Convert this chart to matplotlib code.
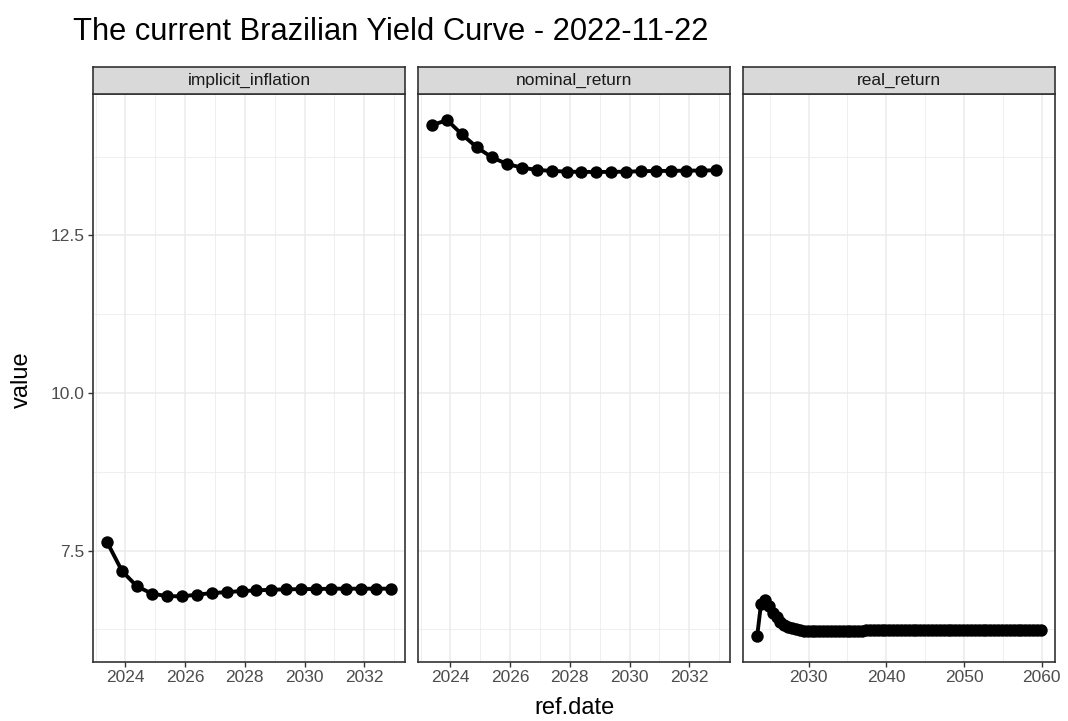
import matplotlib
matplotlib.use("Agg")
import matplotlib.pyplot as plt
from matplotlib.ticker import FixedLocator

plt.rcParams['font.family'] = ['Liberation Sans', 'DejaVu Sans']

# ---------------- data ----------------
dates_short = [2023.39, 2023.89, 2024.39, 2024.89, 2025.39, 2025.89, 2026.39, 2026.89,
               2027.39, 2027.89, 2028.39, 2028.89, 2029.39, 2029.89, 2030.39, 2030.89,
               2031.39, 2031.89, 2032.39, 2032.89]

implicit_inflation = [7.631, 7.173, 6.931, 6.816, 6.778, 6.773, 6.800, 6.825, 6.841, 6.857,
                      6.868, 6.879, 6.884, 6.889, 6.889, 6.895, 6.895, 6.895, 6.895, 6.895]

nominal_return = [14.249, 14.328, 14.100, 13.895, 13.737, 13.633, 13.574, 13.538, 13.522, 13.511,
                  13.506, 13.506, 13.506, 13.511, 13.516, 13.522, 13.522, 13.527, 13.527, 13.532]

dates_real = [2023.39, 2023.89, 2024.39, 2024.89, 2025.39, 2025.89, 2026.39, 2026.89,
              2027.39, 2027.89, 2028.39, 2028.89, 2029.39, 2029.89, 2030.39, 2030.89,
              2031.39, 2031.89, 2032.39, 2032.89, 2033.39, 2033.89, 2034.39, 2034.89,
              2035.39, 2035.89, 2036.39, 2036.89, 2037.39, 2037.89, 2038.39, 2038.89,
              2039.39, 2039.89, 2040.39, 2040.89, 2041.39, 2041.89, 2042.39, 2042.89,
              2043.39, 2043.89, 2044.39, 2044.89, 2045.39, 2045.89, 2046.39, 2046.89,
              2047.39, 2047.89, 2048.39, 2048.89, 2049.39, 2049.89, 2050.39, 2050.89,
              2051.39, 2051.89, 2052.39, 2052.89, 2053.39, 2053.89, 2054.39, 2054.89,
              2055.39, 2055.89, 2056.39, 2056.89, 2057.39, 2057.89, 2058.39, 2058.89,
              2059.39, 2059.89]

real_return = [6.146, 6.660, 6.710, 6.620, 6.510, 6.440, 6.370, 6.325,
               6.290, 6.270, 6.250, 6.238, 6.228, 6.222, 6.220, 6.220,
               6.221, 6.222, 6.223, 6.224, 6.225, 6.226, 6.227, 6.228,
               6.229, 6.230, 6.230, 6.231, 6.232, 6.233, 6.233, 6.234,
               6.235, 6.235, 6.236, 6.236, 6.237, 6.237, 6.238, 6.238,
               6.239, 6.239, 6.240, 6.240, 6.240, 6.241, 6.241, 6.241,
               6.242, 6.242, 6.242, 6.243, 6.243, 6.243, 6.243, 6.244,
               6.244, 6.244, 6.244, 6.245, 6.245, 6.245, 6.245, 6.245,
               6.246, 6.246, 6.246, 6.246, 6.246, 6.246, 6.247, 6.247,
               6.247, 6.247]

facet_names = ["implicit_inflation", "nominal_return", "real_return"]
facet_x = [dates_short, dates_short, dates_real]
facet_y = [implicit_inflation, nominal_return, real_return]

short_major = [2024, 2026, 2028, 2030, 2032]
short_minor = [2023, 2025, 2027, 2029, 2031, 2033]
real_major = [2030, 2040, 2050, 2060]
real_minor = [2025, 2035, 2045, 2055]
facet_major = [short_major, short_major, real_major]
facet_minor = [short_minor, short_minor, real_minor]

y_major = [7.5, 10.0, 12.5]
y_minor = [6.25, 8.75, 11.25, 13.75]

title = "The current Brazilian Yield Curve - 2022-11-22"

# ---------------- layout ----------------
W, H = 1068, 721
fig = plt.figure(figsize=(W / 100, H / 100), dpi=100)

panel_left = [93, 418, 743]
panel_w = 312
panel_top, panel_bot = 94.3, 661.7
strip_top = 67

grey20 = "#333333"
grey30 = "#4D4D4D"
grid_col = "#EBEBEB"

ally = implicit_inflation + nominal_return + real_return
ymin, ymax = min(ally), max(ally)
pad = 0.05 * (ymax - ymin)

for i in range(3):
    x0 = panel_left[i]
    ax = fig.add_axes([x0 / W, 1 - panel_bot / H, panel_w / W, (panel_bot - panel_top) / H])
    ax.plot(facet_x[i], facet_y[i], color="black", lw=2.8,
            solid_capstyle="round", solid_joinstyle="round", zorder=3, clip_on=False, snap=False)
    ax.scatter(facet_x[i], facet_y[i], s=80, color="black", linewidths=0, zorder=4, clip_on=False)
    xs = facet_x[i]
    xpad = 0.05 * (max(xs) - min(xs))
    ax.set_xlim(min(xs) - xpad, max(xs) + xpad)
    ax.set_ylim(ymin - pad, ymax + pad)

    ax.xaxis.set_major_locator(FixedLocator(facet_major[i]))
    ax.xaxis.set_minor_locator(FixedLocator(facet_minor[i]))
    ax.set_xticklabels([str(v) for v in facet_major[i]])
    ax.yaxis.set_major_locator(FixedLocator(y_major))
    ax.yaxis.set_minor_locator(FixedLocator(y_minor))
    ax.set_yticklabels(["7.5", "10.0", "12.5"])

    ax.grid(which="major", color=grid_col, lw=1.1, zorder=0)
    ax.grid(which="minor", color=grid_col, lw=0.55, zorder=0)
    ax.set_axisbelow(True)
    ax.tick_params(which="minor", length=0)
    ax.tick_params(which="major", length=3.5, width=1.0, color=grey20,
                   labelsize=12.5, labelcolor=grey30, pad=2.5)
    if i > 0:
        ax.tick_params(axis="y", which="both", left=False, labelleft=False)
    for s in ax.spines.values():
        s.set_color(grey20)
        s.set_linewidth(1.2)

    # strip
    sax = fig.add_axes([x0 / W, 1 - panel_top / H, panel_w / W, (panel_top - strip_top) / H])
    sax.set_facecolor("#D9D9D9")
    sax.set_xticks([])
    sax.set_yticks([])
    for s in sax.spines.values():
        s.set_color(grey20)
        s.set_linewidth(1.2)
    sax.text(0.5, 0.5, facet_names[i], ha="center", va="center", fontsize=12.5,
             color="#1A1A1A", transform=sax.transAxes)

fig.text(73 / W, 1 - 40 / H, title, fontsize=22.2, ha="left", va="baseline", color="black")
fig.text(22 / W, 1 - 380 / H, "value", rotation=90, ha="center", va="center", fontsize=17)
fig.text(575 / W, 1 - 708 / H, "ref.date", ha="center", va="center", fontsize=17)

fig.savefig("out.png", dpi=100)
